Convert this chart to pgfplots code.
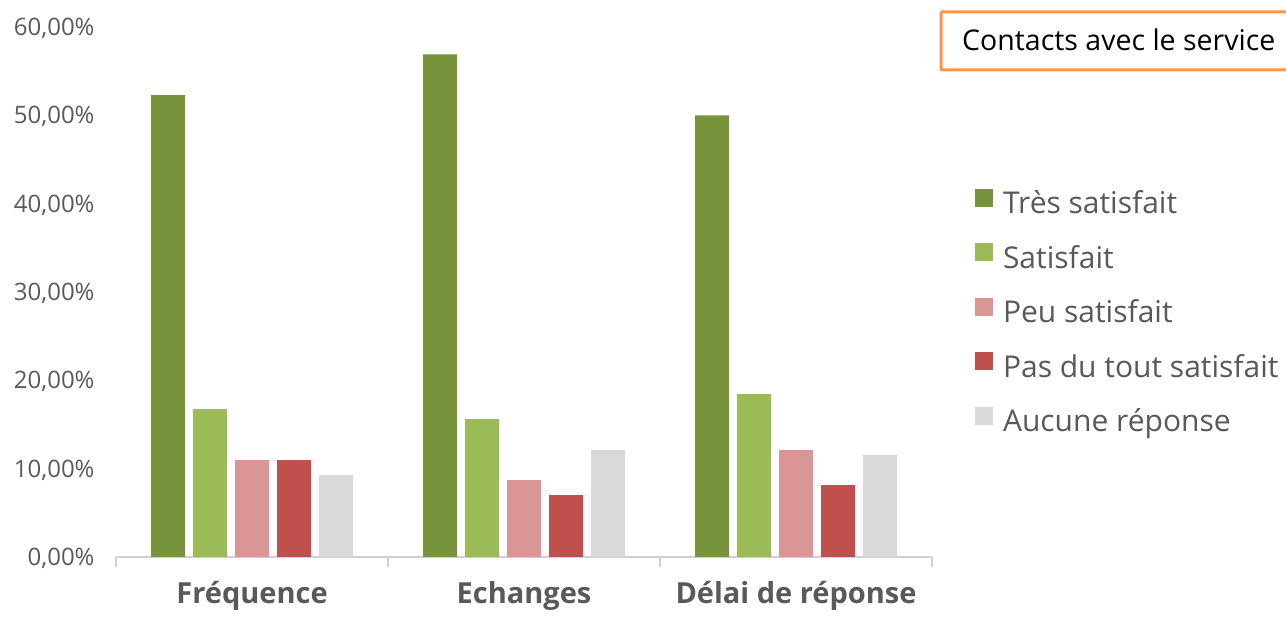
\documentclass[border=0pt]{standalone}
\usepackage{pgfplots}
\pgfplotsset{compat=1.18}
\usepackage{fontspec}
\setmainfont{Open Sans}
\definecolor{dg}{HTML}{77933C}
\definecolor{lg}{HTML}{9BBB59}
\definecolor{pk}{HTML}{D99694}
\definecolor{rd}{HTML}{C0504D}
\definecolor{gy}{HTML}{D9D9D9}
\definecolor{txt}{HTML}{595959}
\definecolor{axgray}{HTML}{D0D0D0}
\definecolor{orangebox}{HTML}{F79646}
\begin{document}
\begin{tikzpicture}[x=1bp,y=1bp]
\useasboundingbox (0,0) rectangle (1286,619);
\begin{axis}[
  at={(116bp,62bp)}, anchor=south west,
  width=816bp, height=530bp, scale only axis,
  xmin=-0.5, xmax=2.5, ymin=0, ymax=60,
  axis lines*=left,
  y axis line style={draw=none},
  x axis line style={draw=axgray, line width=1.2bp},
  ytick={0,10,20,30,40,50,60},
  yticklabels={{0,00\%},{10,00\%},{20,00\%},{30,00\%},{40,00\%},{50,00\%},{60,00\%}},
  major tick length=0pt,
  yticklabel style={font=\fontsize{24bp}{27bp}\selectfont, color=txt, xshift=-18bp, yshift=-1.5bp},
  xtick={0,1,2},
  xticklabels={Fréquence,Echanges,Délai de réponse},
  xticklabel style={font=\bfseries\fontsize{29bp}{33bp}\selectfont, color=txt, yshift=-21bp},
  extra x ticks={-0.5,0.5,1.5,2.5},
  extra x tick labels={},
  extra x tick style={tick align=outside, major tick length=10bp, tick style={draw=axgray, line width=1.2bp}},
  ybar=8bp, bar width=34bp,
  legend style={at={(1.0527,0.695)}, anchor=north west, draw=none, fill=none,
    inner sep=0pt, outer sep=0pt,
    font=\fontsize{30bp}{35bp}\selectfont, text=txt,
    nodes={inner sep=0pt, text height=21bp, text depth=7bp},
    row sep=22.5bp,
    /tikz/every odd column/.append style={column sep=10bp}},
  legend cell align=left,
  legend image code/.code={\fill[#1] (0bp,0bp) rectangle (18bp,18bp);},
]
\addplot[fill=dg, draw=none] coordinates {(0,52.3) (1,56.9) (2,50.0)};
\addplot[fill=lg, draw=none] coordinates {(0,16.75) (1,15.6) (2,18.45)};
\addplot[fill=pk, draw=none] coordinates {(0,10.98) (1,8.7) (2,12.1)};
\addplot[fill=rd, draw=none] coordinates {(0,10.98) (1,7.0) (2,8.15)};
\addplot[fill=gy, draw=none] coordinates {(0,9.28) (1,12.1) (2,11.55)};
\legend{Très satisfait,Satisfait,Peu satisfait,Pas du tout satisfait,Aucune réponse}
\end{axis}
\begin{scope}
\clip (0,0) rectangle (1286,619);
\draw[orangebox, line width=3bp, rounded corners=1bp] (941,549) rectangle (1300,607);
\node[anchor=base west, inner sep=0pt, font=\fontsize{28.5bp}{32bp}\selectfont] at (962,568) {Contacts avec le service};
\end{scope}
\end{tikzpicture}
\end{document}
